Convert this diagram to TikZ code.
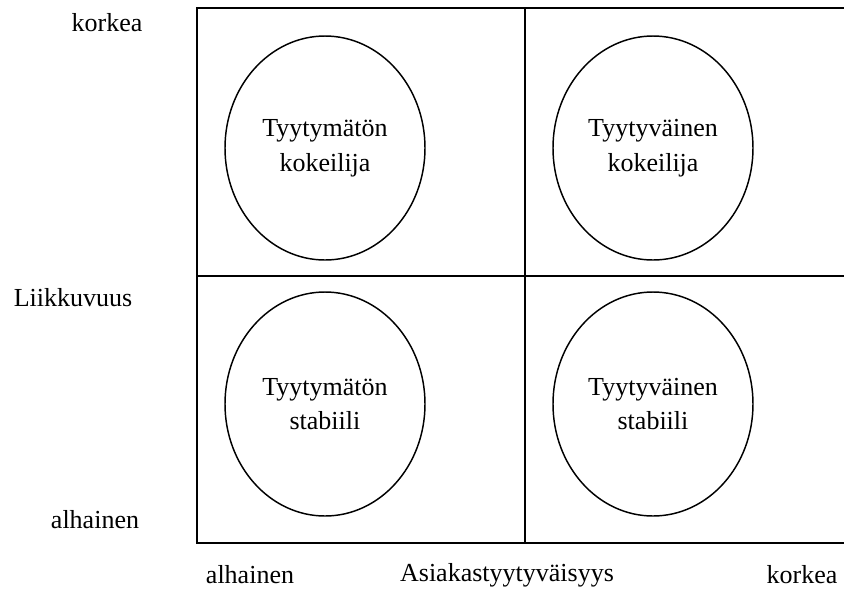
\documentclass[tikz,border=0pt]{standalone}
\usepackage{fontspec}
\setmainfont{Liberation Serif}
\usetikzlibrary{shapes.geometric}
\begin{document}
\begin{tikzpicture}[x=0.75pt,y=-0.75pt,
  gridline/.style={line width=1.3pt,line cap=rect},
  segment/.style={ellipse,draw,line width=1.1pt,minimum width=150pt,minimum height=168pt,
    align=center,font=\fontsize{19.5}{26}\selectfont},
  axislabel/.style={font=\fontsize{19.5}{24}\selectfont,inner sep=0pt}]
  \useasboundingbox (0,0) rectangle (844,590);

  % matrix frame
  \coordinate (tl) at (197,8);
  \coordinate (tr) at (844,8);
  \coordinate (bl) at (197,543);
  \coordinate (br) at (844,543);
  \coordinate (mt) at (525,8);
  \coordinate (mb) at (525,543);
  \coordinate (ml) at (197,276);
  \coordinate (mr) at (844,276);
  \draw[gridline] (tr) -- (tl) -- (bl) -- (br);
  \draw[gridline] (mt) -- (mb);
  \draw[gridline] (ml) -- (mr);

  % quadrants
  \node[segment] (q1) at (325,148) {Tyytymätön\\kokeilija};
  \node[segment] (q2) at (653,148) {Tyytyväinen\\kokeilija};
  \node[segment] (q3) at (325,404) {Tyytymätön\\stabiili};
  \node[segment] (q4) at (653,404) {Tyytyväinen\\stabiili};

  % vertical axis
  \node[axislabel] (yhi) at (107,23) {korkea};
  \node[axislabel] (ymid) at (73,298) {Liikkuvuus};
  \node[axislabel] (ylo) at (95,520) {alhainen};

  % horizontal axis
  \node[axislabel] (xlo) at (250,575) {alhainen};
  \node[axislabel] (xmid) at (507,575) {Asiakastyytyväisyys};
  \node[axislabel] (xhi) at (802,575) {korkea};
\end{tikzpicture}
\end{document}
